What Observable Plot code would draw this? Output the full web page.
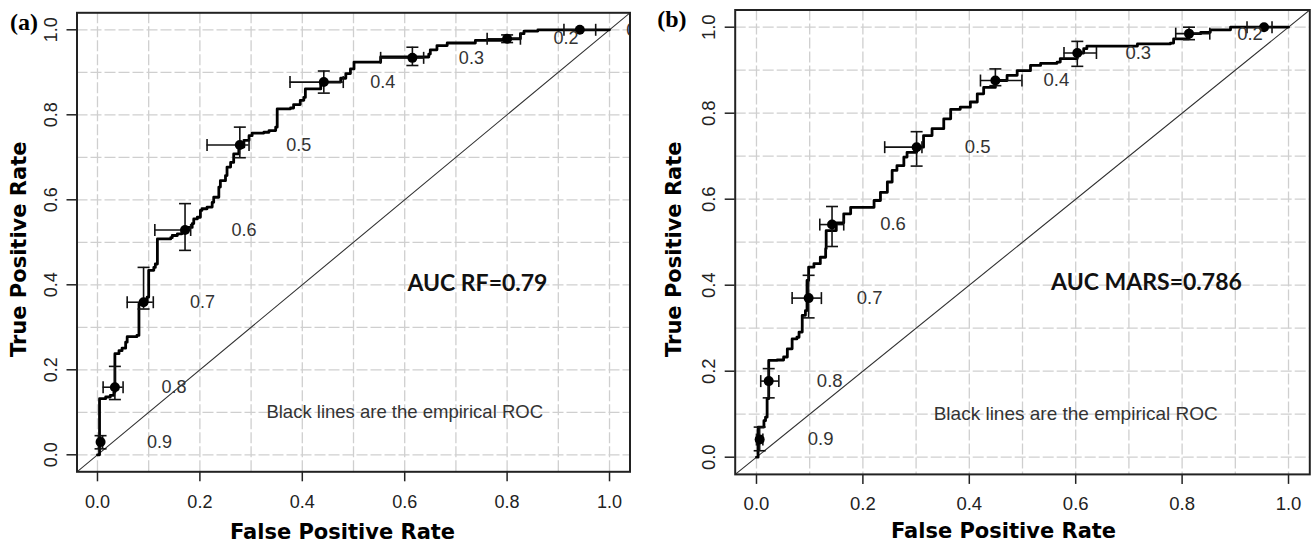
<!DOCTYPE html>
<html>
<head>
<meta charset="utf-8">
<script src="https://cdn.jsdelivr.net/npm/d3@7"></script>
<script src="https://cdn.jsdelivr.net/npm/@observablehq/plot@0.6"></script>
<style>
  html, body { margin: 0; padding: 0; background: #fff; }
  #wrap { display: flex; width: 1312px; height: 544px; overflow: hidden; }
  svg { display: block; }
</style>
</head>
<body>
<div id="wrap"></div>
<script>
// ---------- data ----------
const xTicks = [0, 0.2, 0.4, 0.6, 0.8, 1.0];
const yTicks = [0, 0.2, 0.4, 0.6, 0.8, 1.0];
const gridTicks = [0, 0.1, 0.2, 0.3, 0.4, 0.5, 0.6, 0.7, 0.8, 0.9, 1.0];
const thresholds = ["0.9", "0.8", "0.7", "0.6", "0.5", "0.4", "0.3", "0.2", "0.1"];

// Panel (a) empirical ROC (RF): [FPR, TPR]
const rocA = [
  [0,0],[0.004,0.132],[0.016,0.136],[0.025,0.140],[0.032,0.147],[0.034,0.238],[0.042,0.245],
  [0.048,0.251],[0.055,0.265],[0.058,0.278],[0.077,0.281],[0.081,0.292],[0.081,0.355],
  [0.090,0.362],[0.097,0.371],[0.100,0.434],[0.110,0.441],[0.113,0.449],[0.117,0.508],
  [0.143,0.511],[0.146,0.516],[0.156,0.520],[0.165,0.528],[0.175,0.535],[0.185,0.544],
  [0.188,0.555],[0.195,0.559],[0.201,0.575],[0.204,0.579],[0.214,0.583],[0.224,0.594],
  [0.227,0.606],[0.237,0.630],[0.240,0.645],[0.250,0.657],[0.253,0.677],[0.260,0.688],
  [0.266,0.708],[0.276,0.724],[0.286,0.740],[0.296,0.751],[0.302,0.757],[0.325,0.759],
  [0.335,0.763],[0.348,0.771],[0.351,0.814],[0.377,0.816],[0.383,0.824],[0.396,0.834],
  [0.403,0.841],[0.406,0.861],[0.436,0.871],[0.440,0.877],[0.475,0.886],[0.485,0.897],
  [0.494,0.908],[0.501,0.924],[0.553,0.928],[0.553,0.936],[0.647,0.943],[0.650,0.953],
  [0.663,0.963],[0.683,0.969],[0.738,0.975],[0.800,0.979],[0.826,0.991],[0.833,0.997],
  [0.860,1.0],[1.0,1.0]
];
// Panel (a) threshold points with error bars
const ptsA_fpr   = [0.006, 0.034, 0.090, 0.171, 0.278, 0.442, 0.615, 0.800, 0.942];
const ptsA_tpr   = [0.030, 0.159, 0.359, 0.529, 0.729, 0.877, 0.934, 0.979, 1.000];
const ptsA_fprLo = [0.002, 0.011, 0.058, 0.112, 0.214, 0.376, 0.553, 0.761, 0.911];
const ptsA_fprHi = [0.010, 0.050, 0.109, 0.182, 0.296, 0.480, 0.637, 0.826, 0.973];
const ptsA_tprLo = [0.014, 0.130, 0.343, 0.481, 0.699, 0.851, 0.916, 0.970, 1.000];
const ptsA_tprHi = [0.045, 0.208, 0.441, 0.591, 0.771, 0.903, 0.959, 0.988, 1.000];

// Panel (b) empirical ROC (MARS)
const rocB = [
  [0,0],[0.003,0.070],[0.014,0.085],[0.017,0.093],[0.020,0.136],[0.023,0.225],[0.039,0.226],
  [0.051,0.233],[0.058,0.252],[0.067,0.275],[0.076,0.279],[0.080,0.291],[0.086,0.295],
  [0.086,0.330],[0.092,0.341],[0.095,0.411],[0.098,0.442],[0.108,0.450],[0.120,0.465],
  [0.130,0.485],[0.131,0.527],[0.150,0.545],[0.164,0.566],[0.177,0.581],[0.221,0.597],
  [0.233,0.616],[0.246,0.640],[0.255,0.667],[0.264,0.678],[0.277,0.698],[0.283,0.709],
  [0.301,0.721],[0.314,0.748],[0.330,0.764],[0.352,0.787],[0.365,0.809],[0.383,0.814],
  [0.402,0.826],[0.415,0.845],[0.427,0.860],[0.449,0.876],[0.471,0.888],[0.490,0.899],
  [0.515,0.911],[0.534,0.916],[0.565,0.919],[0.571,0.927],[0.603,0.940],[0.615,0.950],
  [0.621,0.956],[0.716,0.961],[0.778,0.963],[0.784,0.973],[0.813,0.985],[0.835,0.988],
  [0.853,0.994],[0.891,1.0],[1.0,1.0]
];
const ptsB_fpr   = [0.006, 0.023, 0.098, 0.142, 0.301, 0.449, 0.603, 0.813, 0.954];
const ptsB_tpr   = [0.041, 0.177, 0.370, 0.541, 0.721, 0.876, 0.940, 0.985, 1.000];
const ptsB_fprLo = [0.000, 0.008, 0.067, 0.119, 0.241, 0.421, 0.578, 0.788, 0.922];
const ptsB_fprHi = [0.012, 0.042, 0.122, 0.164, 0.311, 0.499, 0.639, 0.852, 0.969];
const ptsB_tprLo = [0.015, 0.138, 0.324, 0.490, 0.677, 0.864, 0.909, 0.971, 1.000];
const ptsB_tprHi = [0.070, 0.206, 0.423, 0.583, 0.757, 0.903, 0.967, 1.000, 1.000];

const domain = [-0.04, 1.04];

// ---------- helpers ----------
const hCap = {draw(ctx, size) { const r = Math.sqrt(size / Math.PI); ctx.moveTo(-r, 0); ctx.lineTo(r, 0); }};
const vCap = {draw(ctx, size) { const r = Math.sqrt(size / Math.PI); ctx.moveTo(0, -r); ctx.lineTo(0, r); }};
const fmt = d => d.toFixed(1);

function buildPoints(fpr, tpr, fLo, fHi, tLo, tHi) {
  return thresholds.map((th, i) => ({th, fpr: fpr[i], tpr: tpr[i], fLo: fLo[i], fHi: fHi[i], tLo: tLo[i], tHi: tHi[i]}));
}

function panel(cfg) {
  const pts = buildPoints(...cfg.pts);
  const labelPts = pts.filter(d => !cfg.skipLabels.includes(d.th));
  const vBars = pts.filter(d => d.tHi > d.tLo);
  const hBars = pts.filter(d => d.fHi > d.fLo);
  const vCaps = vBars.flatMap(d => [{x: d.fpr, y: d.tLo}, {x: d.fpr, y: d.tHi}]);
  const hCaps = hBars.flatMap(d => [{x: d.fLo, y: d.tpr}, {x: d.fHi, y: d.tpr}]);
  const diag = domain.map(v => ({x: v, y: v}));
  const regular = "Liberation Sans, Arial, Helvetica, sans-serif";
  const heavy = "DejaVu Sans, Verdana, sans-serif";
  return Plot.plot({
    width: cfg.width,
    height: 544,
    marginLeft: cfg.ml, marginRight: cfg.mr, marginTop: cfg.mt, marginBottom: cfg.mb,
    x: {domain, label: null},
    y: {domain, label: null},
    style: {fontFamily: regular, fontSize: "18px", background: "white", overflow: "visible"},
    marks: [
      Plot.gridX({ticks: gridTicks, stroke: "#cfcfcf", strokeOpacity: 1, strokeWidth: 1.3, strokeDasharray: "11,3"}),
      Plot.gridY({ticks: gridTicks, stroke: "#cfcfcf", strokeOpacity: 1, strokeWidth: 1.3, strokeDasharray: "11,3"}),
      Plot.axisX({ticks: xTicks, tickSize: 10, tickFormat: () => "", label: null, stroke: "#222", strokeWidth: 1.5}),
      Plot.axisY({ticks: yTicks, tickSize: 10, tickFormat: () => "", label: null, stroke: "#222", strokeWidth: 1.5}),
      Plot.text(xTicks, {x: d => d, frameAnchor: "bottom", dy: 30, text: fmt, fill: "#222", fontSize: cfg.fs, lineAnchor: "middle"}),
      Plot.text(yTicks, {y: d => d, frameAnchor: "left", dx: -26, rotate: -90, text: fmt, fill: "#222", fontSize: cfg.fs, textAnchor: "middle", lineAnchor: "middle"}),
      Plot.line(diag, {x: "x", y: "y", stroke: "#333", strokeWidth: 1.1, clip: true}),
      Plot.line(cfg.roc, {x: d => d[0], y: d => d[1], curve: "step-after", stroke: "#000", strokeWidth: 2.8}),
      Plot.ruleX(vBars, {x: "fpr", y1: "tLo", y2: "tHi", stroke: "#111", strokeWidth: 1.6}),
      Plot.ruleY(hBars, {y: "tpr", x1: "fLo", x2: "fHi", stroke: "#111", strokeWidth: 1.6}),
      Plot.dot(vCaps, {x: "x", y: "y", symbol: hCap, r: 6, stroke: "#111", strokeWidth: 1.6, fill: "none"}),
      Plot.dot(hCaps, {x: "x", y: "y", symbol: vCap, r: 6, stroke: "#111", strokeWidth: 1.6, fill: "none"}),
      Plot.dot(pts, {x: "fpr", y: "tpr", r: 5, fill: "#000", stroke: "none"}),
      Plot.text(labelPts, {x: "fpr", y: "tpr", text: "th", dx: cfg.labelDx, fill: "#333", fontSize: cfg.fs, clip: true}),
      Plot.text([cfg.auc], {x: cfg.aucX, y: cfg.aucY, text: d => d, fontFamily: "Lato, Open Sans, sans-serif", fontWeight: "bold", fontSize: cfg.aucFs, fill: "#111"}),
      Plot.text(["Black lines are the empirical ROC"], {x: 0.6, y: 0.1, text: d => d, fill: "#333", fontSize: cfg.noteFs}),
      Plot.frame({stroke: "#222", strokeWidth: 2}),
      Plot.text(["False Positive Rate"], {frameAnchor: "bottom", dx: cfg.xtDx, dy: cfg.xtDy, text: d => d, fontFamily: heavy, fontWeight: "bold", fontSize: 21, fill: "#000", lineAnchor: "middle"}),
      Plot.text(["True Positive Rate"], {frameAnchor: "left", dx: cfg.ytDx, dy: 7, rotate: -90, text: d => d, fontFamily: heavy, fontWeight: "bold", fontSize: 21, fill: "#000", lineAnchor: "middle", textAnchor: "middle"}),
      Plot.text([cfg.tag], {frameAnchor: "top-left", dx: cfg.tagDx, dy: cfg.tagDy, text: d => d, fontFamily: "Liberation Serif, Times New Roman, serif", fontWeight: "bold", fontSize: 24, fill: "#000", textAnchor: "start", lineAnchor: "bottom"})
    ]
  });
}

const wrap = document.getElementById("wrap");
wrap.append(panel({
  width: 650, ml: 76.5, mr: 20.5, mt: 12.3, mb: 72.7,
  roc: rocA, pts: [ptsA_fpr, ptsA_tpr, ptsA_fprLo, ptsA_fprHi, ptsA_tprLo, ptsA_tprHi],
  skipLabels: [],
  fs: 18, labelDx: 59, auc: "AUC RF=0.79", aucX: 0.742, aucY: 0.402, aucFs: 23, noteFs: 18.5,
  xtDx: -11, xtDy: 60.5, ytDx: -58, tag: "(a)", tagDx: -67, tagDy: 17
}));
wrap.append(panel({
  width: 662, ml: 84.7, mr: 2.7, mt: 9.5, mb: 70.1,
  roc: rocB, pts: [ptsB_fpr, ptsB_tpr, ptsB_fprLo, ptsB_fprHi, ptsB_tprLo, ptsB_tprHi],
  skipLabels: ["0.1"],
  fs: 18.5, labelDx: 61, auc: "AUC MARS=0.786", aucX: 0.733, aucY: 0.405, aucFs: 23, noteFs: 19,
  xtDx: -19, xtDy: 57, ytDx: -60.5, tag: "(b)", tagDx: -78, tagDy: 16.5
}));
</script>
</body>
</html>
